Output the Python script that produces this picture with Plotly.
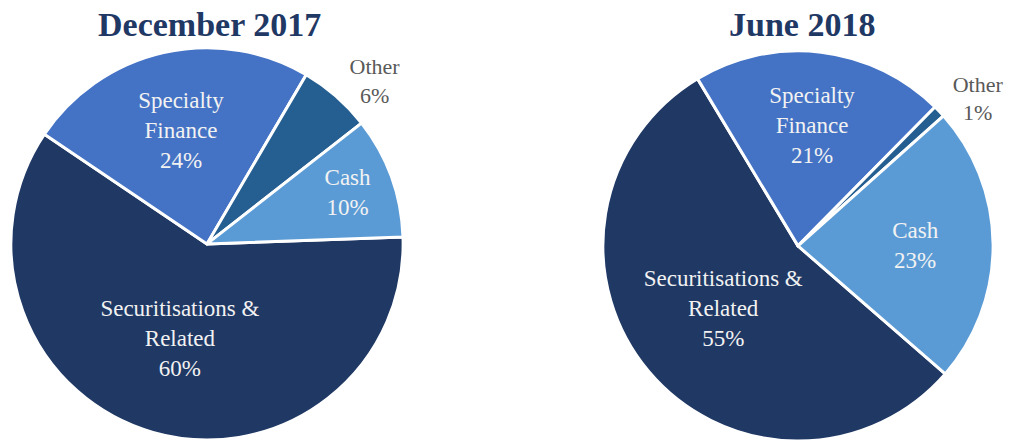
import plotly.graph_objects as go

categories = ["Securitisations &<br>Related", "Specialty<br>Finance", "Other", "Cash"]
dec2017 = [60, 24, 6, 10]
jun2018 = [55, 21, 1, 23]
titles = ["December 2017", "June 2018"]
colors = ["#1F3864", "#4472C4", "#255E91", "#5B9BD5"]

W, H = 1013, 446  # slightly taller than the 440 window so the pie bottoms are clipped
FONT = "Liberation Serif"


def dom(cx, cy, r):
    # pixel centre/radius (from top-left) -> paper domain
    return [(cx - r) / W, (cx + r) / W], [(H - cy - r) / H, (H - cy + r) / H]


def make_pie(values, cx, cy, r, rotation):
    texts = [f"{c}<br>{v}%" for c, v in zip(categories, values)]
    dx, dy = dom(cx, cy, r)
    return go.Pie(
        labels=categories,
        values=values,
        text=texts,
        textinfo="text",
        sort=False,
        direction="clockwise",
        rotation=rotation,
        marker=dict(colors=colors, line=dict(color="white", width=3)),
        textposition=["inside", "inside", "outside", "inside"],
        insidetextorientation="horizontal",
        insidetextfont=dict(family=FONT, size=23, color="#F2F2F2"),
        outsidetextfont=dict(family=FONT, size=22, color="#595959"),
        domain=dict(x=dx, y=dy),
        showlegend=False,
        hoverinfo="label+percent",
    )


fig = go.Figure()
fig.add_trace(make_pie(dec2017, 207, 245, 197, 88))
fig.add_trace(make_pie(jun2018, 798, 247, 196, 131))

for t, xc in zip(titles, [209, 802]):
    fig.add_annotation(
        text=f"<b>{t}</b>", x=xc / W, y=1 - 25 / H, xref="paper", yref="paper",
        showarrow=False, xanchor="center", yanchor="middle",
        font=dict(family=FONT, size=34, color="#1F3864"),
    )

fig.update_layout(
    width=W, height=H,
    margin=dict(l=0, r=0, t=0, b=0),
    paper_bgcolor="white", plot_bgcolor="white",
)

fig.write_html(
    "out.html",
    config={"displayModeBar": False},
    post_script="document.body.style.margin='0';document.body.style.overflow='hidden';",
)
